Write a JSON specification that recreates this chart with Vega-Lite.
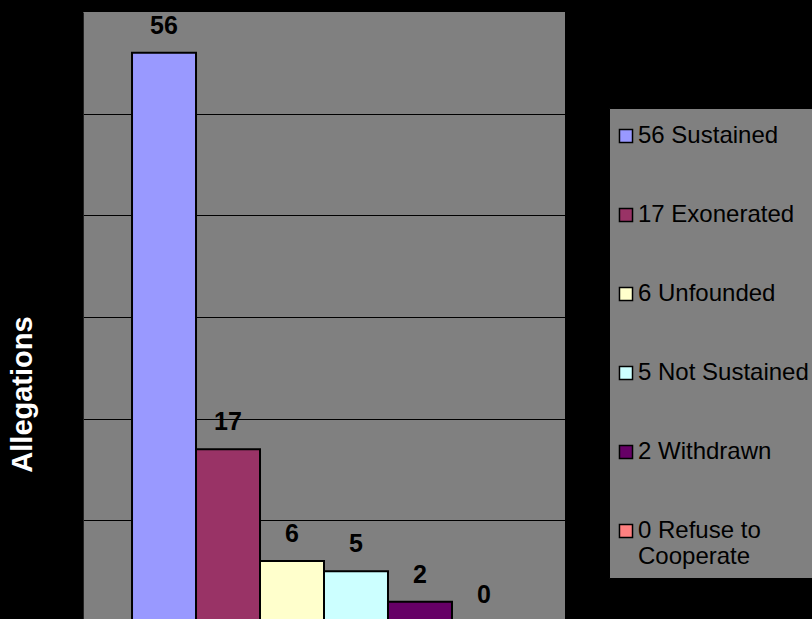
{
  "$schema": "https://vega.github.io/schema/vega-lite/v6.json",
  "width": 482,
  "height": 610,
  "autosize": "none",
  "padding": {"left": 83, "top": 12, "right": 247, "bottom": 0},
  "background": "black",
  "data": {
    "values": [
      {"outcome": "56 Sustained", "allegations": 56},
      {"outcome": "17 Exonerated", "allegations": 17},
      {"outcome": "6 Unfounded", "allegations": 6},
      {"outcome": "5 Not Sustained", "allegations": 5},
      {"outcome": "2 Withdrawn", "allegations": 2},
      {"outcome": "0 Refuse to Cooperate", "allegations": 0}
    ]
  },
  "encoding": {
    "x": {
      "field": "outcome",
      "type": "nominal",
      "sort": null,
      "axis": null,
      "scale": {"paddingInner": 0, "paddingOuter": 0.766}
    },
    "y": {
      "field": "allegations",
      "type": "quantitative",
      "scale": {"domain": [0, 60]},
      "axis": {
        "title": "Allegations",
        "titleFont": "Liberation Sans",
        "titleFontSize": 29,
        "titleFontWeight": "bold",
        "titleColor": "white",
        "titleX": -61,
        "titleY": 382,
        "titleAlign": "center",
        "titleBaseline": "middle",
        "labels": false,
        "ticks": false,
        "domain": true,
        "domainColor": "#222222",
        "grid": true,
        "gridColor": "black",
        "gridWidth": 1,
        "values": [10, 20, 30, 40, 50]
      }
    }
  },
  "layer": [
    {
      "mark": {"type": "bar", "stroke": "black", "strokeWidth": 2},
      "encoding": {
        "color": {
          "field": "outcome",
          "type": "nominal",
          "sort": null,
          "scale": {
            "domain": ["56 Sustained", "17 Exonerated", "6 Unfounded", "5 Not Sustained", "2 Withdrawn", "0 Refuse to Cooperate"],
            "range": ["#9999FF", "#993366", "#FFFFCC", "#CCFFFF", "#660066", "#FF8080"]
          },
          "legend": {
            "orient": "none",
            "legendX": 526,
            "legendY": 96,
            "title": " ",
            "titleFontSize": 1,
            "titlePadding": 6,
            "fillColor": "#808080",
            "strokeColor": "black",
            "padding": 9,
            "labelFont": "Liberation Sans",
            "labelFontSize": 24,
            "labelColor": "black",
            "labelLimit": 300,
            "labelOffset": 0,
            "labelExpr": "datum.label == '0 Refuse to Cooperate' ? ['0 Refuse to', 'Cooperate'] : datum.label",
            "symbolType": "square",
            "symbolSize": 170,
            "symbolOffset": -4,
            "symbolStrokeColor": "black",
            "symbolStrokeWidth": 1.5,
            "symbolOpacity": 1,
            "rowPadding": 55
          }
        }
      }
    },
    {
      "mark": {
        "type": "text",
        "baseline": "bottom",
        "dy": -14,
        "font": "Liberation Sans",
        "fontSize": 25,
        "fontWeight": "bold",
        "color": "black"
      },
      "encoding": {
        "text": {"field": "allegations", "type": "quantitative"}
      }
    }
  ],
  "config": {
    "view": {"fill": "#808080", "stroke": null}
  }
}
